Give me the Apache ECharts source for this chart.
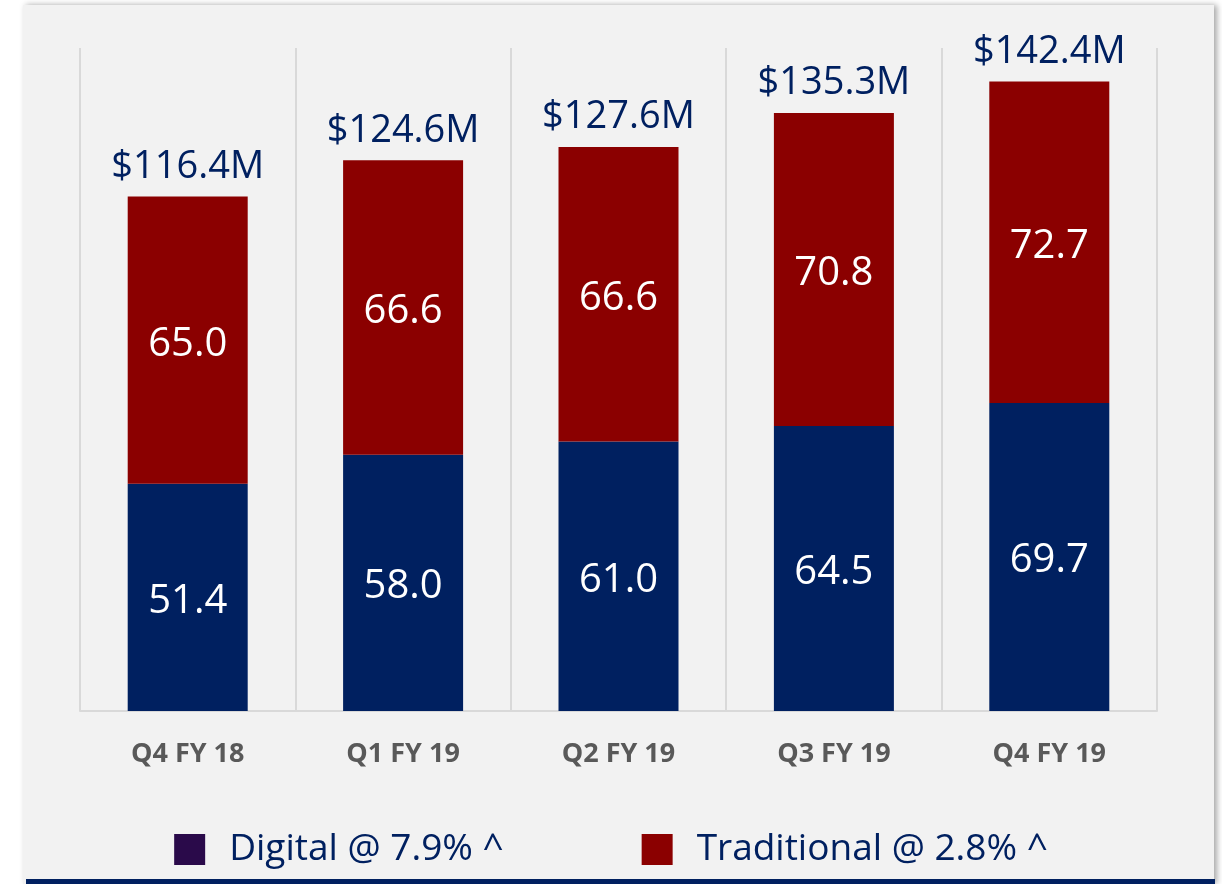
<!DOCTYPE html>
<html>
<head>
<meta charset="utf-8">
<script src="https://cdn.jsdelivr.net/npm/echarts@6/dist/echarts.min.js"></script>
<style>
  html, body { margin: 0; padding: 0; background: #ffffff; }
  #chart { width: 1222px; height: 884px; }
</style>
</head>
<body>
<div id="chart"></div>
<script>
// data
const quarters = ['Q4 FY 18', 'Q1 FY 19', 'Q2 FY 19', 'Q3 FY 19', 'Q4 FY 19'];
const digital = [51.4, 58.0, 61.0, 64.5, 69.7];
const traditional = [65.0, 66.6, 66.6, 70.8, 72.7];
const totals = [116.4, 124.6, 127.6, 135.3, 142.4];

const digitalName = 'Digital @ 7.9% ^';
const traditionalName = 'Traditional @ 2.8% ^';

const navy = '#002060';
const red = '#8b0000';
const font = '"Open Sans", "Noto Sans", sans-serif';

var myChart = echarts.init(document.getElementById('chart'));

var option = {
    animation: false,
    textStyle: { fontFamily: font },
    graphic: [
        {
            type: 'rect',
            z: -10,
            shape: { x: 23, y: 5, width: 1191, height: 879 },
            style: {
                fill: '#f2f2f2',
                shadowBlur: 6,
                shadowOffsetX: 3,
                shadowOffsetY: 0,
                shadowColor: 'rgba(0,0,0,0.35)'
            }
        },
        {
            type: 'rect',
            z: -9,
            shape: { x: 26, y: 879, width: 1189, height: 5 },
            style: { fill: navy }
        }
    ],
    grid: { left: 80, right: 65, top: 48, bottom: 173 },
    legend: {
        top: 826,
        left: 'center',
        itemWidth: 31,
        itemHeight: 31,
        itemGap: 138,
        icon: 'rect',
        textStyle: { fontSize: 37, color: navy, fontFamily: font, padding: [0, 0, 0, 19] },
        data: [
            { name: digitalName, itemStyle: { color: '#2a0a4a' } },
            { name: traditionalName, itemStyle: { color: red } }
        ]
    },
    xAxis: {
        type: 'category',
        data: quarters,
        axisTick: { show: false },
        axisLine: { lineStyle: { color: '#d9d9d9', width: 2 } },
        splitLine: { show: true, lineStyle: { color: '#d9d9d9', width: 2 } },
        axisLabel: {
            margin: 30,
            fontSize: 27,
            fontWeight: 'bold',
            color: '#595959',
            fontFamily: font
        }
    },
    yAxis: {
        type: 'value',
        min: 0,
        max: 150,
        show: false,
        splitLine: { show: false }
    },
    series: [
        {
            name: digitalName,
            type: 'bar',
            stack: 'rev',
            barWidth: 120,
            itemStyle: { color: navy },
            label: {
                show: true,
                position: 'inside',
                offset: [0, 4],
                color: '#ffffff',
                fontSize: 40,
                fontFamily: font,
                formatter: p => p.value.toFixed(1)
            },
            data: digital
        },
        {
            name: traditionalName,
            type: 'bar',
            stack: 'rev',
            barWidth: 120,
            itemStyle: { color: red },
            label: {
                show: true,
                position: 'inside',
                offset: [0, 4],
                color: '#ffffff',
                fontSize: 40,
                fontFamily: font,
                formatter: p => p.value.toFixed(1)
            },
            data: traditional
        },
        {
            name: 'Total',
            type: 'line',
            symbol: 'circle',
            symbolSize: 1,
            lineStyle: { width: 0, color: 'rgba(0,0,0,0)' },
            itemStyle: { color: 'rgba(0,0,0,0)' },
            label: {
                show: true,
                position: 'top',
                distance: 10,
                color: navy,
                fontSize: 38,
                fontFamily: font,
                formatter: p => '$' + p.value.toFixed(1) + 'M'
            },
            data: totals
        }
    ]
};

myChart.setOption(option);
</script>
</body>
</html>
